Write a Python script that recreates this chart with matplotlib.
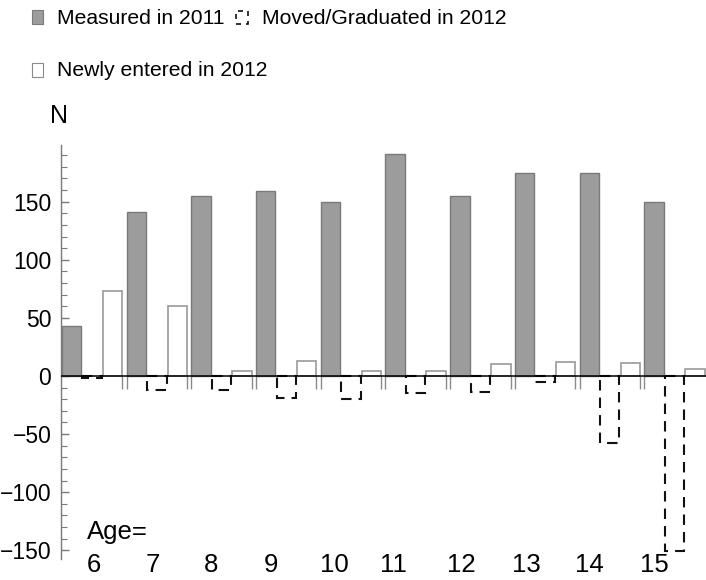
import matplotlib
matplotlib.use("Agg")
import matplotlib.pyplot as plt
from matplotlib.patches import Rectangle
from matplotlib import font_manager
import numpy as np

plt.rcParams['font.family'] = ['Liberation Sans', 'DejaVu Sans']

# ---- data ----
ages = ["6", "7", "8", "9", "10", "11", "12", "13", "14", "15"]
measured_2011 = [43, 141, 155, 159, 150, 191, 155, 175, 175, 150]
moved_2012 = [-2, -12, -12, -19, -20, -15, -14, -5, -58, -151]
newly_2012 = [73, 60, 4, 13, 4, 4, 10, 12, 11, 6]
y_major = [-150, -100, -50, 0, 50, 100, 150]

# legend font: narrow face if available
_names = {f.name for f in font_manager.fontManager.ttflist}
if 'Liberation Sans Narrow' in _names:
    leg_family, leg_size = ['Liberation Sans Narrow', 'DejaVu Sans'], 18.5
else:
    leg_family, leg_size = ['Liberation Sans', 'DejaVu Sans'], 15.2

# ---- layout ----
W, H = 706, 580
fig = plt.figure(figsize=(W / 100, H / 100), dpi=100)
ax_left, ax_right, ax_top, ax_bot = 61, 706, 145, 559
ax = fig.add_axes([ax_left / W, 1 - ax_bot / H, (ax_right - ax_left) / W, (ax_bot - ax_top) / H])

n = len(ages)
g = np.arange(n)
bw = 0.30
off_moved = 0.317
off_new = 0.634

ax.bar(g, measured_2011, width=bw, align='edge', color='#9c9c9c', edgecolor='#7a7a7a', linewidth=1.0, zorder=2)
ax.bar(g + off_new, newly_2012, width=bw, align='edge', color='white', edgecolor='#9a9a9a', linewidth=1.2, zorder=2)
ax.bar(g + off_moved, moved_2012, width=bw, align='edge', fill=False, edgecolor='#111111',
       linewidth=1.5, linestyle=(0, (5.0, 3.4)), zorder=3)

# group separator ticks below the zero line
for i in range(n - 1):
    for xs in (i + off_new + bw, i + 1):
        ax.plot([xs, xs], [0, -11], color='#8a8a8a', lw=1.0, zorder=1, solid_capstyle='butt')

ax.axhline(0, color='black', lw=1.1, zorder=4)

ax.set_xlim(-0.015, 9.955)
ax.set_ylim(-157.5, 198.8)

for s in ['top', 'right', 'bottom']:
    ax.spines[s].set_visible(False)
ax.spines['left'].set_color('#7a7a7a')
ax.spines['left'].set_linewidth(1.0)

ax.set_xticks([])
ax.set_yticks(y_major)
ax.set_yticklabels([str(v).replace('-', '\u2212') for v in y_major], fontsize=16.5)
ax.set_yticks(np.arange(-150, 200, 10), minor=True)
ax.tick_params(axis='y', which='major', direction='in', length=6, width=1.0, color='#7a7a7a', pad=7)
ax.tick_params(axis='y', which='minor', direction='in', length=4, width=0.8, color='#7a7a7a')

# age labels (manually placed in the original figure)
label_x = [0.495, 1.406, 2.303, 3.230, 4.204, 5.131, 6.167, 7.172, 8.145, 9.150]
for lx, lab in zip(label_x, ages):
    ax.text(lx, -162.5, lab, ha='center', va='center', fontsize=18.5, clip_on=False)
ax.text(0.39, -134.5, "Age=", ha='left', va='center', fontsize=18.5, clip_on=False)

# axis label N
fig.text(59 / W, 1 - 116 / H, "N", ha='center', va='center', fontsize=18)

# ---- legend (drawn manually) ----
def px_rect(x0, y0, w, h, **kw):
    r = Rectangle((x0 / W, 1 - (y0 + h) / H), w / W, h / H, transform=fig.transFigure, **kw)
    fig.patches.append(r)

px_rect(32, 10, 11, 14, facecolor='#9c9c9c', edgecolor='#7a7a7a', lw=0.8)
fig.text(57 / W, 1 - 18 / H, "Measured in 2011", ha='left', va='center', fontsize=leg_size, family=leg_family)
px_rect(236, 11, 12, 13, fill=False, edgecolor='#111111', lw=1.2, linestyle=(0, (3, 3)))
fig.text(262 / W, 1 - 18 / H, "Moved/Graduated in 2012", ha='left', va='center', fontsize=leg_size, family=leg_family)
px_rect(32, 63, 11, 14, facecolor='white', edgecolor='#8a8a8a', lw=0.8)
fig.text(57 / W, 1 - 70 / H, "Newly entered in 2012", ha='left', va='center', fontsize=leg_size, family=leg_family)

fig.savefig("out.png", dpi=100)
